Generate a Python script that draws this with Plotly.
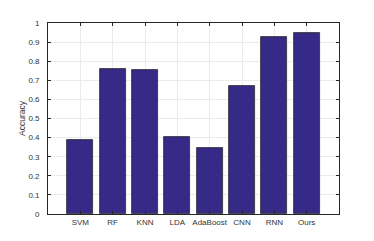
import plotly.graph_objects as go

methods = ["SVM", "RF", "KNN", "LDA", "AdaBoost", "CNN", "RNN", "Ours"]
accuracy = [0.388, 0.761, 0.756, 0.403, 0.343, 0.672, 0.927, 0.946]
y_ticks = [0, 0.1, 0.2, 0.3, 0.4, 0.5, 0.6, 0.7, 0.8, 0.9, 1]
y_tick_text = ["0", "0.1", "0.2", "0.3", "0.4", "0.5", "0.6", "0.7", "0.8", "0.9", "1"]

fig = go.Figure()
fig.add_trace(go.Bar(
    x=methods, y=accuracy, width=0.8,
    marker=dict(color="#352A87", line=dict(color="#2b2b2b", width=0.8)),
))

font_family = "Liberation Sans, Arial, sans-serif"
axis_common = dict(
    showline=True, linecolor="#262626", linewidth=0.8, mirror="ticks",
    ticks="inside", ticklen=3, tickcolor="#262626", tickwidth=0.8,
    showgrid=True, gridcolor="#ebebeb", gridwidth=0.8,
    tickfont=dict(family=font_family, size=8, color="#333333"),
    zeroline=False,
)

# page body has an 8px default margin, so the figure is shrunk and shifted by 8px
fig.update_layout(
    width=366, height=233,
    margin=dict(l=40, r=35, t=11, b=27),
    paper_bgcolor="white", plot_bgcolor="white",
    showlegend=False,
    bargap=0,
    xaxis=dict(range=[-1, 8], type="category", ticklabelstandoff=0, **axis_common),
    yaxis=dict(range=[0, 1], tickvals=y_ticks, ticktext=y_tick_text,
               ticklabelstandoff=6,
               title=dict(text="Accuracy", font=dict(family=font_family, size=8.5, color="#333333"), standoff=1),
               **axis_common),
)

fig.write_html("out.html")
